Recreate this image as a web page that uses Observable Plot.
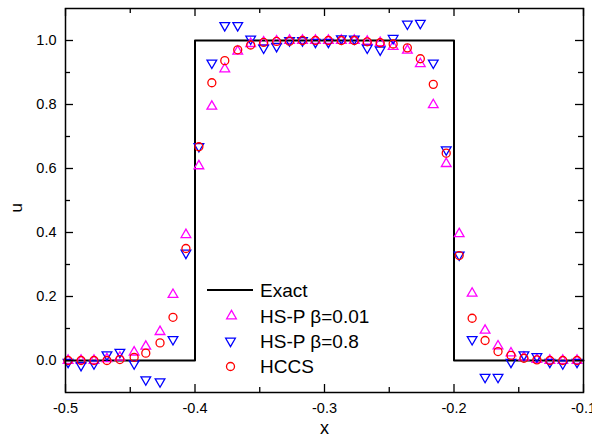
<!DOCTYPE html>
<html><head><meta charset="utf-8">
<script src="https://cdn.jsdelivr.net/npm/d3@7"></script>
<script src="https://cdn.jsdelivr.net/npm/@observablehq/plot@0.6"></script>
<style>
html,body{margin:0;padding:0;background:#fff;}
#chart{position:relative;width:592px;height:440px;font-family:"Liberation Sans",Arial,sans-serif;}
#legend{position:absolute;left:0;top:0;pointer-events:none;}
</style></head><body><div id="chart"></div>
<script>
// grid points (x)
const xs = [-0.498,-0.488,-0.478,-0.468,-0.458,-0.447,-0.438,-0.427,-0.417,-0.407,
            -0.397,-0.387,-0.377,-0.367,-0.357,-0.347,-0.337,-0.327,-0.317,-0.307,
            -0.297,-0.287,-0.277,-0.267,-0.257,-0.247,-0.236,-0.226,-0.216,-0.206,
            -0.196,-0.186,-0.176,-0.166,-0.156,-0.146,-0.136,-0.126,-0.116,-0.105];
// HS-P beta=0.01
const hsp001 = [0.0,0.0,0.0,0.005,0.01,0.026,0.044,0.09,0.206,0.393,
                0.608,0.794,0.911,0.966,0.990,0.995,0.998,1.0,1.0,1.0,
                1.0,1.0,1.0,0.997,0.993,0.981,0.969,0.927,0.799,0.615,
                0.396,0.210,0.094,0.045,0.023,0.01,0.003,0.0,0.0,0.0];
// HS-P beta=0.8
const hsp08 = [-0.005,-0.015,-0.01,0.018,0.026,-0.01,-0.06,-0.066,0.066,0.336,
               0.669,0.930,1.047,1.047,1.005,0.977,0.982,1.0,1.0,0.995,
               0.995,1.006,1.005,0.977,0.971,1.007,1.052,1.054,0.930,0.659,
               0.330,0.066,-0.052,-0.052,-0.005,0.018,0.0125,-0.005,-0.01,-0.005];
// HCCS
const hccs = [0.0,0.0,0.0,0.0,0.003,0.01,0.023,0.055,0.135,0.35,
              0.668,0.868,0.937,0.971,0.986,0.994,0.997,0.998,1.0,1.0,
              1.0,1.0,1.0,0.996,0.993,0.989,0.977,0.943,0.863,0.648,
              0.328,0.132,0.0625,0.028,0.016,0.007,0.002,0.0,0.0,0.0];
// exact solution
const exactX = [-0.5,-0.4,-0.4,-0.2,-0.2,-0.1];
const exactU = [0,0,1,1,0,0];
// ticks
const xMajor = [-0.5,-0.4,-0.3,-0.2,-0.1];
const xMinor = [-0.45,-0.35,-0.25,-0.15];
const yMajor = [0,0.2,0.4,0.6,0.8,1.0];
const yMinor = [0.1,0.3,0.5,0.7,0.9];
const seriesNames = ["Exact","HS-P \u03b2=0.01","HS-P \u03b2=0.8","HCCS"];

const W = 592, H = 440, mL = 65, mR = 9, mT = 8, mB = 48;
const pw = W - mL - mR, ph = H - mT - mB;
const majorLen = 8, minorLen = 5;

const rows = (arr) => xs.map((x, i) => ({x, u: arr[i]}));
const exact = exactX.map((x, i) => ({x, u: exactU[i]}));
const tk = {stroke: "black", strokeWidth: 1.3};

const plot = Plot.plot({
  width: W, height: H,
  marginLeft: mL, marginRight: mR, marginTop: mT, marginBottom: mB,
  style: {fontFamily: "Liberation Sans, Arial, sans-serif", fontSize: "14px", color: "black", background: "white"},
  x: {domain: [-0.5, -0.1]},
  y: {domain: [-0.1, 1.1]},
  marks: [
    Plot.line(exact, {x: "x", y: "u", stroke: "black", strokeWidth: 2}),
    Plot.dot(rows(hsp001), {x: "x", y: "u", symbol: "triangle", r: 3.6, stroke: "#ff00ff", fill: "none", strokeWidth: 1.3}),
    Plot.dot(rows(hsp08), {x: "x", y: "u", symbol: "triangle", rotate: 180, r: 3.6, stroke: "#0000ff", fill: "none", strokeWidth: 1.3}),
    Plot.dot(rows(hccs), {x: "x", y: "u", symbol: "circle", r: 4, stroke: "#ff0000", fill: "none", strokeWidth: 1.3}),
    // inward ticks
    Plot.tickX(xMajor, {x: d => d, insetTop: ph - majorLen, ...tk}),
    Plot.tickX(xMinor, {x: d => d, insetTop: ph - minorLen, ...tk}),
    Plot.tickX(xMajor, {x: d => d, insetBottom: ph - majorLen, ...tk}),
    Plot.tickX(xMinor, {x: d => d, insetBottom: ph - minorLen, ...tk}),
    Plot.tickY(yMajor, {y: d => d, insetRight: pw - majorLen, ...tk}),
    Plot.tickY(yMinor, {y: d => d, insetRight: pw - minorLen, ...tk}),
    Plot.tickY(yMajor, {y: d => d, insetLeft: pw - majorLen, ...tk}),
    Plot.tickY(yMinor, {y: d => d, insetLeft: pw - minorLen, ...tk}),
    Plot.axisX(xMajor, {tickSize: 0, tickPadding: 10, tickFormat: d => d.toFixed(1), fontSize: 14.5, label: null}),
    Plot.axisY(yMajor, {tickSize: 0, tickPadding: 9, tickFormat: d => d.toFixed(1), fontSize: 14.5, label: null}),
    Plot.text(["x"], {text: d => d, frameAnchor: "bottom", dy: 41, fontSize: 18}),
    Plot.text(["u"], {text: d => d, frameAnchor: "left", dx: -49, dy: 12, rotate: -90, fontSize: 17}),
    Plot.frame({stroke: "black", strokeWidth: 1.5})
  ]
});
const chart = document.getElementById("chart");
chart.appendChild(plot);

// legend overlay
const lg = d3.select(chart).append("svg").attr("id", "legend").attr("width", W).attr("height", H);
const rowY = [290, 316, 341, 366.5];
const tri = d3.symbol(d3.symbolTriangle, 3.6 * 3.6 * Math.PI)();
lg.append("line").attr("x1", 207).attr("x2", 253).attr("y1", rowY[0]).attr("y2", rowY[0])
  .attr("stroke", "black").attr("stroke-width", 2);
lg.append("path").attr("d", tri).attr("transform", `translate(231.5,${rowY[1]})`)
  .attr("fill", "none").attr("stroke", "#ff00ff").attr("stroke-width", 1.3);
lg.append("path").attr("d", tri).attr("transform", `translate(230.5,${rowY[2]}) rotate(180)`)
  .attr("fill", "none").attr("stroke", "#0000ff").attr("stroke-width", 1.3);
lg.append("circle").attr("cx", 230.5).attr("cy", rowY[3]).attr("r", 4)
  .attr("fill", "none").attr("stroke", "#ff0000").attr("stroke-width", 1.3);
seriesNames.forEach((name, i) => {
  lg.append("text").attr("x", 260).attr("y", rowY[i]).attr("dy", "0.36em")
    .attr("font-family", "Liberation Sans, Arial, sans-serif").attr("font-size", 19)
    .attr("fill", "black").text(name);
});
</script></body></html>
